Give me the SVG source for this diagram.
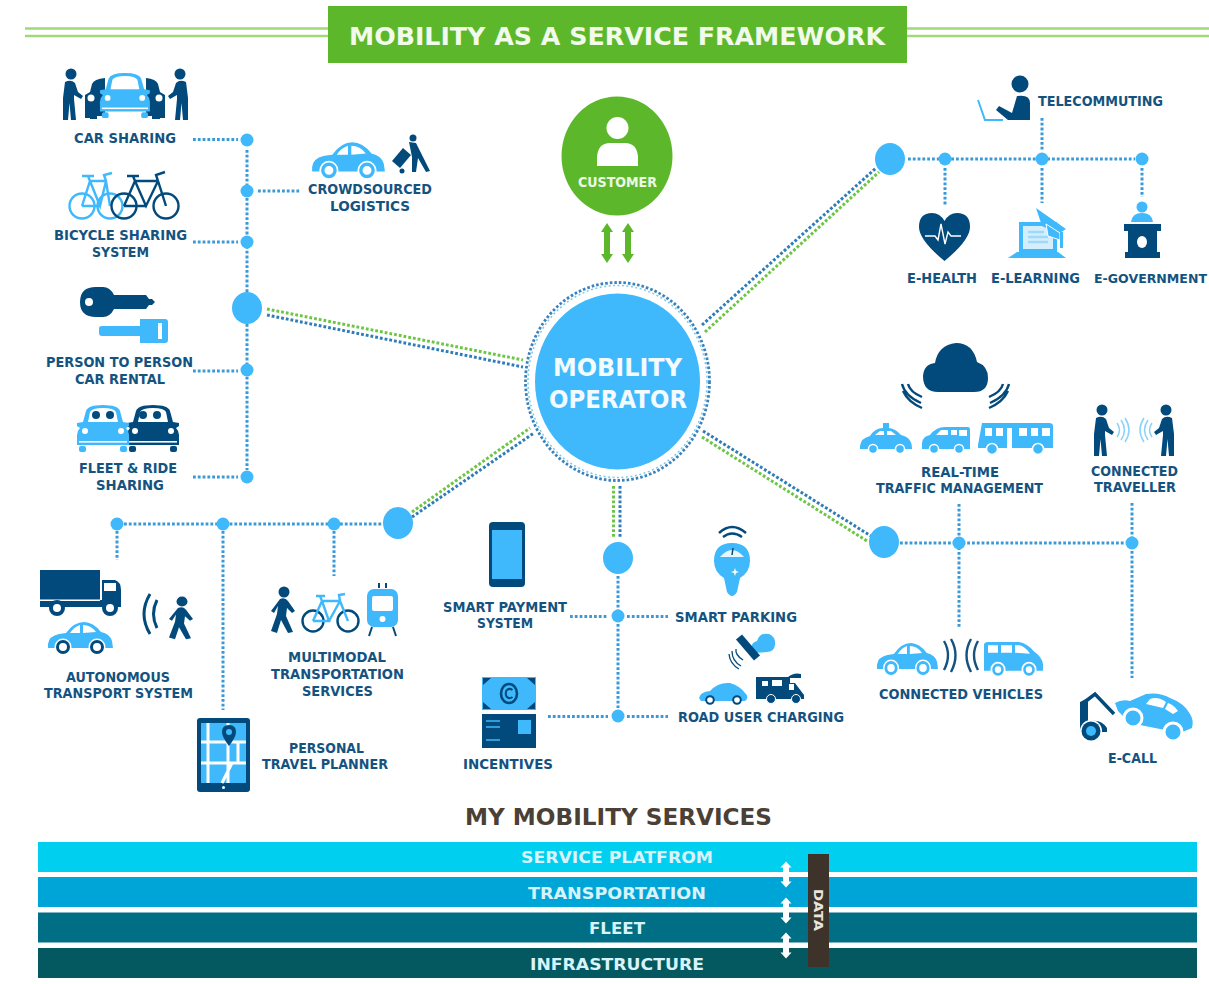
<svg xmlns="http://www.w3.org/2000/svg" width="1209" height="984" viewBox="0 0 1209 984">
<style>
text{font-family:"DejaVu Sans","Liberation Sans",sans-serif;font-weight:700}
.t{font-size:13.5px;fill:#14537f}
.d{fill:#034a7c}
.l{fill:#3fb9fc}
.g{fill:#5cb82a}
.dot{fill:none;stroke:#3a9ad8;stroke-width:3;stroke-dasharray:2.8 2}
.dotd{fill:none;stroke:#2f7db8;stroke-width:3;stroke-dasharray:2.8 2}
.dotg{fill:none;stroke:#6cc644;stroke-width:3;stroke-dasharray:2.8 2}
.band{font-size:16px;fill:#d8f3fa}
</style>
<defs>
<g id="sedan">
<path d="M1 25Q2 17 12 15L19 14Q27 3 37 3Q46 3 54 13Q63 15 65 22L66 29L1 29Z" class="l"/>
<path d="M23 14Q27 8 33 6L33 14ZM36 6Q44 6 49 13L36 14Z" fill="#fff"/>
<circle cx="16" cy="28" r="8.500" fill="#fff"/><circle cx="16" cy="28" r="5.500" fill="none" stroke="currentColor" stroke-width="3"/>
<circle cx="50" cy="28" r="8.500" fill="#fff"/><circle cx="50" cy="28" r="5.500" fill="none" stroke="currentColor" stroke-width="3"/>
</g>
<g id="van">
<path d="M1 4Q1 1 5 1L36 1Q44 2 51 10Q59 15 60 22L60 28L1 28Z" class="l"/>
<path d="M5 4H15V11H5ZM18 4H29V11H18ZM32 4H37Q43 6 47 12L32 11Z" fill="#fff"/>
<circle cx="15" cy="27" r="7.500" fill="#fff"/><circle cx="15" cy="27" r="4.500" fill="none" stroke="#3fb9fc" stroke-width="2.600"/>
<circle cx="46" cy="27" r="7.500" fill="#fff"/><circle cx="46" cy="27" r="4.500" fill="none" stroke="#3fb9fc" stroke-width="2.600"/>
</g>
<g id="front">
<path d="M10 6Q12 0 27 0Q42 0 44 6L47 17L53 18V21L50 23Q53 26 53 30V40H1V30Q1 26 4 23L1 21V18L7 17Z" fill="currentColor"/>
<path d="M12 17L14 7Q16 3 27 3Q38 3 40 7L42 17Z" fill="#fff"/>
<rect x="3" y="36" width="48" height="1.600" fill="#fff"/>
<circle cx="9" cy="26" r="3" fill="#fff"/><circle cx="45" cy="26" r="3" fill="#fff"/>
<rect x="3" y="41" width="7" height="6" rx="2" fill="currentColor"/><rect x="44" y="41" width="7" height="6" rx="2" fill="currentColor"/>
</g>
<g id="person">
<circle cx="10" cy="6" r="5.500"/>
<path d="M4 14Q10 11 14 15L17 24L22 28L20 31L13 27L13 31L15 52H10L8.500 35L7 52H2L2 30Z"/>
</g>
<g id="walker">
<circle cx="13" cy="6" r="5.500"/>
<path d="M9 13Q14 11 17 15L24 25L21 27L16 22L15 30L22 46L17 47L10 34L6 47L0 45L6 28L7 20L3 27L0 25Z"/>
</g>
<path id="udarrow" d="M0 -20L6 -11H3V11H6L0 20L-6 11H-3V-11H-6Z"/>
<path id="udwhite" d="M0 -13L5.500 -7H3V7H5.500L0 13L-5.500 7H-3V-7H-5.500Z" fill="#fff"/>
</defs>

<rect width="1209" height="984" fill="#fff"/>

<g id="title">
<path d="M25 28.500H328M25 36H328M907 28.500H1209M907 36H1209" fill="none" stroke="#9ed97a" stroke-width="2.500"/>
<rect x="328" y="6" width="579" height="57" class="g"/>
<text x="349" y="45" font-size="25" fill="#f2faec" textLength="536" lengthAdjust="spacingAndGlyphs">MOBILITY AS A SERVICE FRAMEWORK</text>
</g>

<g id="connectors">
<path class="dot" d="M193 139.500H238M258 191H300M193 242H238M193 371H238M193 477H238M247 150V294M247 324V470"/>
<path class="dotg" d="M267 309L523 360"/><path class="dotd" d="M267 315L523 367"/>
<path class="dotg" d="M412 512L530 428"/><path class="dotd" d="M412 517L534 433"/>
<path class="dotd" d="M702 325L876 168"/><path class="dotg" d="M705 332L879 172"/>
<path class="dotd" d="M703 431L871 536"/><path class="dotg" d="M702 437L867 541"/>
<path class="dotg" d="M613.500 486V537"/><path class="dotd" d="M620 486V537"/>
<path class="dot" d="M618 576V708M570 616.500H608M627 616.500H668M548 716.500H608M627 716.500H668"/>
<path class="dot" d="M908 159H1135M945 168V206M1042 118V150M1042 168V203M1142 168V197"/>
<path class="dot" d="M900 543H1125M959 504V627M1132 503V678"/>
<path class="dot" d="M124 524H383M117 531V560M223 531V710M334 531V576"/>
</g>

<g id="hubs" class="l">
<ellipse cx="247" cy="308" rx="15" ry="16"/><ellipse cx="398" cy="523" rx="15" ry="16"/><ellipse cx="618" cy="558" rx="15" ry="16"/><ellipse cx="890" cy="159" rx="15" ry="16"/><ellipse cx="884" cy="542" rx="15" ry="16"/>
<circle cx="247" cy="140" r="6.500"/><circle cx="247" cy="191" r="6.500"/><circle cx="247" cy="242" r="6.500"/><circle cx="247" cy="370" r="6.500"/><circle cx="247" cy="477" r="6.500"/>
<circle cx="117" cy="524" r="6.500"/><circle cx="223" cy="524" r="6.500"/><circle cx="334" cy="524" r="6.500"/>
<circle cx="618" cy="616" r="6.500"/><circle cx="618" cy="716" r="6.500"/>
<circle cx="945" cy="159" r="6.500"/><circle cx="1042" cy="159" r="6.500"/><circle cx="1142" cy="159" r="6.500"/>
<circle cx="959" cy="543" r="6.500"/><circle cx="1132" cy="543" r="6.500"/>
</g>

<g id="customer">
<ellipse cx="617" cy="156" rx="55.500" ry="59.500" class="g"/>
<circle cx="617.500" cy="128" r="11" fill="#fff"/>
<path d="M597 166V157Q598 143 610 143H625Q637 143 638 157V166Z" fill="#fff"/>
<text x="578" y="187" font-size="13.500" fill="#eef8e6" textLength="79" lengthAdjust="spacingAndGlyphs">CUSTOMER</text>
<use href="#udarrow" x="607" y="243" class="g"/><use href="#udarrow" x="628" y="243" class="g"/>
</g>

<g id="mobility-operator">
<ellipse cx="617.500" cy="381.500" rx="92" ry="99" fill="none" stroke="#3a82bd" stroke-width="2.800" stroke-dasharray="2.600 2"/>
<ellipse cx="617.500" cy="381.500" rx="89.500" ry="96" fill="none" stroke="#7cc8e8" stroke-width="1.500" stroke-dasharray="2 2.500"/>
<ellipse cx="617.500" cy="381.500" rx="82.500" ry="88" class="l"/>
<text x="553" y="376" font-size="24.500" fill="#f3fbff" textLength="129" lengthAdjust="spacingAndGlyphs">MOBILITY</text>
<text x="549" y="408" font-size="24.500" fill="#f3fbff" textLength="138" lengthAdjust="spacingAndGlyphs">OPERATOR</text>
</g>

<g id="car-sharing">
<path d="M85 118V95L90 92L92 84Q94 79 105 78V116H97V119H90V118Z" class="d"/>
<path d="M165 118V95L160 92L158 84Q156 79 146 78V116H152V119H160V118Z" class="d"/>
<circle cx="91" cy="98" r="3.500" fill="#fff"/><circle cx="159" cy="98" r="3.500" fill="#fff"/>
<use href="#front" transform="translate(99 73) scale(.96)" color="#3fb9fc"/>
<use href="#person" transform="translate(61 68)" class="d"/>
<use href="#person" transform="translate(190 68) scale(-1 1)" class="d"/>
<text class="t" x="74" y="143" textLength="102" lengthAdjust="spacingAndGlyphs">CAR SHARING</text>
</g>

<g id="crowdsourced-logistics">
<use href="#sedan" transform="translate(311 139) scale(1.120)" color="#3fb9fc"/>
<circle cx="413" cy="138" r="3.500" class="d"/>
<path d="M409 142L416 143L430 171L426 172L418 158L416 172H412L412 157Z" class="d"/>
<path d="M392 161L403 148L411 155L400 168Z" class="d"/><circle cx="402" cy="171" r="2.500" class="d"/>
<text class="t" x="308" y="194" textLength="124" lengthAdjust="spacingAndGlyphs">CROWDSOURCED</text>
<text class="t" x="330" y="211" textLength="80" lengthAdjust="spacingAndGlyphs">LOGISTICS</text>
</g>

<g id="bicycle-sharing" fill="none" stroke-width="2.400">
<g stroke="#3fb9fc"><circle cx="82" cy="206" r="12.500"/><circle cx="110" cy="206" r="12.500"/><path d="M82 206L90 181H106L110 206M90 181L100 206L106 181M82 206H100M90 181L88 176M82 176H94M106 181L104 175L112 173"/></g>
<g stroke="#034a7c"><circle cx="124" cy="206" r="12.500"/><circle cx="166" cy="206" r="12.500"/><path d="M124 206L135 181H158L166 206M135 181L146 206L158 181M124 206H146M135 181L133 176M127 176H139M158 181L156 175L165 172"/></g>
<text class="t" x="54" y="240" textLength="133" lengthAdjust="spacingAndGlyphs" stroke="none">BICYCLE SHARING</text>
<text class="t" x="92" y="257" textLength="57" lengthAdjust="spacingAndGlyphs" stroke="none">SYSTEM</text>
</g>

<g id="person-to-person">
<path d="M80 302Q80 287 96 287H103Q110 287 114 295H146L149 299H152L155 302L152 305H149L146 309H114Q110 317 103 317H96Q80 317 80 302Z" class="d"/>
<circle cx="89" cy="302" r="4" fill="#fff"/>
<path d="M99 328Q99 326 102 326H140V319H165Q168 319 168 322V340Q168 343 165 343H140V336H102Q99 336 99 333Z" class="l"/>
<rect x="158" y="323" width="4" height="16" fill="#fff"/>
<text class="t" x="46" y="367" textLength="147" lengthAdjust="spacingAndGlyphs">PERSON TO PERSON</text>
<text class="t" x="75" y="384" textLength="90" lengthAdjust="spacingAndGlyphs">CAR RENTAL</text>
</g>

<g id="fleet-ride-sharing">
<use href="#front" transform="translate(126 405)" color="#034a7c"/>
<use href="#front" transform="translate(76 405)" color="#3fb9fc"/>
<g class="d"><circle cx="96" cy="415" r="4"/><circle cx="110" cy="415" r="4"/><circle cx="143" cy="415" r="4"/><circle cx="157" cy="415" r="4"/></g>
<text class="t" x="79" y="473" textLength="98" lengthAdjust="spacingAndGlyphs">FLEET &amp; RIDE</text>
<text class="t" x="96" y="490" textLength="68" lengthAdjust="spacingAndGlyphs">SHARING</text>
</g>

<g id="autonomous-transport">
<rect x="40" y="570" width="60" height="30" class="d"/><path d="M40 600H102V580H115Q121 582 121 590V607H40Z" class="d"/>
<rect x="104" y="583" width="12" height="8" fill="#fff"/><rect x="40" y="599.500" width="60" height="1.500" fill="#fff"/>
<circle cx="57" cy="608" r="8" class="d"/><circle cx="57" cy="608" r="4" fill="#fff"/><circle cx="110" cy="608" r="8" class="d"/><circle cx="110" cy="608" r="4" fill="#fff"/>
<use href="#sedan" transform="translate(47 619)" color="#034a7c"/>
<path d="M150 594Q138 614 150 634M157 600Q150 614 157 628" fill="none" stroke="#034a7c" stroke-width="3"/>
<use href="#walker" transform="translate(169 596) scale(1 .92)" class="d"/>
<text class="t" x="66" y="682" textLength="104" lengthAdjust="spacingAndGlyphs">AUTONOMOUS</text>
<text class="t" x="44" y="698" textLength="149" lengthAdjust="spacingAndGlyphs">TRANSPORT SYSTEM</text>
</g>

<g id="multimodal">
<use href="#walker" transform="translate(271 586)" class="d"/>
<g fill="none"><circle cx="313" cy="621" r="10.500" stroke="#034a7c" stroke-width="2.400"/><circle cx="348" cy="621" r="10.500" stroke="#034a7c" stroke-width="2.400"/><path d="M313 621L322 601H340L348 621M322 601L329 621H313M329 621L340 601M322 601L320 596M316 596H325M340 601L339 595L345 594" stroke="#3fb9fc" stroke-width="2.400"/></g>
<rect x="367" y="589" width="31" height="38" rx="7" class="l"/><rect x="372" y="596" width="21" height="15" rx="2" fill="#fff"/><circle cx="382.500" cy="619" r="3" fill="#fff"/>
<path d="M372 627L369 636M393 627L396 636M379 583V588M386 583V588" stroke="#034a7c" stroke-width="2" fill="none"/>
<text class="t" x="288" y="662" textLength="98" lengthAdjust="spacingAndGlyphs">MULTIMODAL</text>
<text class="t" x="271" y="679" textLength="133" lengthAdjust="spacingAndGlyphs">TRANSPORTATION</text>
<text class="t" x="302" y="696" textLength="71" lengthAdjust="spacingAndGlyphs">SERVICES</text>
</g>

<g id="personal-travel-planner">
<rect x="197" y="718" width="53" height="74" rx="3" class="d"/>
<rect x="201" y="723" width="45" height="60" class="l"/>
<path d="M208 723V783M201 742H246M228 723V783M201 763H246M238 742V763M222 783L232 763" stroke="#fff" stroke-width="3" fill="none"/>
<path d="M229 725Q222 725 222 732Q222 737 229 746Q236 737 236 732Q236 725 229 725Z" class="d"/><circle cx="229" cy="732" r="3" class="l"/>
<circle cx="223.500" cy="787.500" r="1.500" fill="#fff"/>
<text class="t" x="289" y="753" textLength="75" lengthAdjust="spacingAndGlyphs">PERSONAL</text>
<text class="t" x="262" y="769" textLength="126" lengthAdjust="spacingAndGlyphs">TRAVEL PLANNER</text>
</g>

<g id="smart-payment">
<rect x="489" y="522" width="36" height="65" rx="4" class="d"/><rect x="492" y="530" width="30" height="49" class="l"/>
<text class="t" x="443" y="612" textLength="124" lengthAdjust="spacingAndGlyphs">SMART PAYMENT</text>
<text class="t" x="477" y="628" textLength="56" lengthAdjust="spacingAndGlyphs">SYSTEM</text>
</g>

<g id="incentives">
<rect x="482" y="677" width="54" height="33" class="l"/>
<path d="M483 678H491L483 685ZM535 678H527L535 685ZM483 709H491L483 702ZM535 709H527L535 702Z" class="d"/>
<ellipse cx="509" cy="693.500" rx="8" ry="9.500" fill="none" stroke="#034a7c" stroke-width="2.600"/>
<path d="M512.500 690Q509 687.500 506.500 690.500Q505 693.500 506.500 696.500Q509 699.500 512.500 697" fill="none" stroke="#034a7c" stroke-width="2"/>
<rect x="482" y="714" width="54" height="34" class="d"/><rect x="518" y="720" width="13" height="14" class="l"/>
<path d="M486 721H500M486 727H500M486 740H500" stroke="#3fb9fc" stroke-width="1.600"/>
<text class="t" x="463" y="769" textLength="90" lengthAdjust="spacingAndGlyphs">INCENTIVES</text>
</g>

<g id="smart-parking">
<path d="M719 533Q732 521 746 533M723 537Q732 530 742 537" fill="none" stroke="#034a7c" stroke-width="2.400"/>
<path d="M732 543Q714 543 714 561Q714 572 724 578L727 592Q732 600 737 592L740 578Q750 572 750 561Q750 543 732 543Z" class="l"/>
<path d="M720 557Q732 543 744 557Z" fill="#e8f6fe"/>
<path d="M732 555L733 548" stroke="#034a7c" stroke-width="1.500"/>
<path d="M735 568L736 571L739 572L736 573L735 576L734 573L731 572L734 571Z" fill="#fff"/>
<text class="t" x="675" y="622" textLength="122" lengthAdjust="spacingAndGlyphs">SMART PARKING</text>
</g>

<g id="road-user-charging">
<path d="M754 653Q748 644 757 641Q760 632 769 634Q776 637 775 645Q774 652 767 652Z" class="l"/>
<path d="M739 637L757 658" stroke="#034a7c" stroke-width="8" fill="none"/>
<path d="M736 649Q735 655 743 660M732 651Q732 661 741 666M729 654Q730 664 739 669" fill="none" stroke="#034a7c" stroke-width="1.300"/>
<path d="M699 698Q700 692 710 691Q718 682 730 683Q740 686 745 693Q748 695 747 699L745 701H701Z" class="l"/>
<circle cx="710" cy="700" r="3.800" fill="#fff" stroke="#034a7c" stroke-width="2"/><circle cx="737" cy="700" r="3.800" fill="#fff" stroke="#034a7c" stroke-width="2"/>
<path d="M756 677H788Q794 672 801 674V678H790V683H795L804 695V699H756Z" class="d"/>
<rect x="762" y="681" width="6" height="5" fill="#fff"/><rect x="772" y="680" width="10" height="6" fill="#fff"/><rect x="789" y="684" width="5" height="6" fill="#fff"/>
<circle cx="771" cy="699" r="4.500" class="d" stroke="#fff"/><circle cx="796" cy="699" r="4.500" class="d" stroke="#fff"/>
<text class="t" x="678" y="722" textLength="166" lengthAdjust="spacingAndGlyphs">ROAD USER CHARGING</text>
</g>

<g id="telecommuting">
<circle cx="1020" cy="84" r="8.500" class="d"/>
<path d="M1017 96Q1030 94 1030 103V120H1008L996 110L999 106L1012 113Z" class="d"/>
<path d="M978 100L985 120H1003" fill="none" stroke="#3fb9fc" stroke-width="2"/>
<text class="t" x="1038" y="106" textLength="125" lengthAdjust="spacingAndGlyphs">TELECOMMUTING</text>
</g>

<g id="e-health">
<path d="M944.500 261Q919 240 919 227Q919 213 932 213Q940 213 944.500 221Q949 213 957 213Q970 213 970 227Q970 240 944.500 261Z" class="d"/>
<path d="M925 236H935L938 240L941 224L945 244L948 232L951 236H961" fill="none" stroke="#fff" stroke-width="1.400"/>
<text class="t" x="907" y="283" textLength="70" lengthAdjust="spacingAndGlyphs">E-HEALTH</text>
</g>

<g id="e-learning">
<rect x="1019" y="222" width="38" height="30" class="l"/><rect x="1023" y="226" width="30" height="23" fill="#d5eefc"/>
<path d="M1028 232H1044M1028 237H1048M1028 242H1048" stroke="#9fdafc" stroke-width="2.500"/>
<path d="M1008 258L1017 252H1058L1066 258Z" class="l"/>
<path d="M1036 208L1066 229L1058 234L1042 226Z" class="l"/>
<path d="M1046 224L1060 233V240L1048 236Z" class="l" stroke="#fff"/>
<rect x="1060" y="232" width="3" height="16" class="l"/>
<text class="t" x="991" y="283" textLength="89" lengthAdjust="spacingAndGlyphs">E-LEARNING</text>
</g>

<g id="e-government">
<circle cx="1142" cy="207" r="5.500" class="l"/><path d="M1131 222Q1132 213 1142 213Q1152 213 1153 222Z" class="l"/>
<path d="M1124 224H1161V231H1157V252H1160V258H1125V252H1128V231H1124Z" class="d"/><ellipse cx="1142" cy="242" rx="5" ry="6" fill="#fff"/>
<text class="t" x="1094" y="283" style="font-size:12.300px" textLength="113" lengthAdjust="spacingAndGlyphs">E-GOVERNMENT</text>
</g>

<g id="real-time-traffic">
<path d="M938 392Q923 392 923 376Q924 364 935 363Q938 345 956 343Q973 343 977 362Q988 366 988 378Q988 392 974 392Z" fill="#034a7c"/>
<path d="M902 384Q905 396 921 403M908 384Q910 392 922 397M903 391Q908 402 922 408M1009 384Q1006 396 990 403M1003 384Q1001 392 989 397M1008 391Q1003 402 989 408" fill="none" stroke="#034a7c" stroke-width="2.400"/>
<path d="M860 446Q861 438 870 436Q875 428 883 428V423H889V428Q896 429 901 435Q912 437 912 449H860Z" class="l"/><path d="M875 435L880 431H884V435ZM887 431H891L896 435H887Z" fill="#fff"/>
<circle cx="873" cy="449" r="4.500" class="l" stroke="#fff" stroke-width="1.500"/><circle cx="900" cy="449" r="4.500" class="l" stroke="#fff" stroke-width="1.500"/>
<path d="M922 449V443Q923 436 930 435Q936 427 945 427H968Q970 427 970 430V449Z" class="l"/><path d="M936 435L941 430H948V435ZM951 430H957V435H951ZM959 430H967V436H959Z" fill="#fff"/>
<circle cx="934" cy="449" r="4.500" class="l" stroke="#fff" stroke-width="1.500"/><circle cx="959" cy="449" r="4.500" class="l" stroke="#fff" stroke-width="1.500"/>
<path d="M978 445L982 423H1049Q1053 423 1053 426V448H978Z" class="l"/>
<path d="M985 428H992V436H985ZM996 428H1003V436H996ZM1007 428H1012V449H1007ZM1019 428H1027V436H1019ZM1031 428H1038V436H1031ZM1042 428H1050V436H1042Z" fill="#fff"/>
<circle cx="992" cy="449" r="5.500" class="l" stroke="#fff" stroke-width="1.500"/><circle cx="1038" cy="449" r="5.500" class="l" stroke="#fff" stroke-width="1.500"/>
<text class="t" x="921" y="477" textLength="78" lengthAdjust="spacingAndGlyphs">REAL-TIME</text>
<text class="t" x="876" y="493" textLength="167" lengthAdjust="spacingAndGlyphs">TRAFFIC MANAGEMENT</text>
</g>

<g id="connected-traveller">
<use href="#person" transform="translate(1092 404)" class="d"/>
<use href="#person" transform="translate(1176 404) scale(-1 1)" class="d"/>
<path d="M1117 423Q1122 430 1117 437M1121 420Q1128 430 1121 440M1125 418Q1133 430 1125 442M1152 423Q1147 430 1152 437M1148 420Q1141 430 1148 440M1144 418Q1136 430 1144 442" fill="none" stroke="#8ad2f9" stroke-width="1.500"/>
<text class="t" x="1091" y="476" textLength="87" lengthAdjust="spacingAndGlyphs">CONNECTED</text>
<text class="t" x="1094" y="492" textLength="82" lengthAdjust="spacingAndGlyphs">TRAVELLER</text>
</g>

<g id="connected-vehicles">
<use href="#sedan" transform="translate(876 640) scale(.94 1)" color="#3fb9fc"/>
<path d="M944 641Q952 655 944 670M951 639Q960 655 951 672M978 641Q970 655 978 670M971 639Q962 655 971 672" fill="none" stroke="#14537f" stroke-width="2.400"/>
<use href="#van" transform="translate(983 641) scale(1 1.060)"/>
<text class="t" x="879" y="699" textLength="164" lengthAdjust="spacingAndGlyphs">CONNECTED VEHICLES</text>
</g>

<g id="e-call">
<path d="M1082 704L1095 694L1114 714" fill="none" stroke="#034a7c" stroke-width="3.500"/>
<path d="M1080 702L1088 698V722Q1100 718 1107 728V732H1100Q1094 722 1084 726L1080 732Z" class="d"/>
<circle cx="1091" cy="731" r="11" fill="#fff"/><circle cx="1091" cy="731" r="9.500" class="d"/><circle cx="1091" cy="731" r="5" class="l"/>
<path d="M1115 703Q1122 699 1130 701L1146 694Q1160 692 1170 698Q1184 703 1190 714Q1194 720 1192 728L1180 733L1130 723L1118 711Z" class="l"/>
<path d="M1150 699Q1158 696 1166 702L1163 708L1146 704ZM1168 703Q1174 705 1178 711L1173 714L1165 709Z" fill="#fff"/>
<circle cx="1133" cy="718" r="9" class="l" stroke="#fff" stroke-width="3"/><circle cx="1173" cy="732" r="9" class="l" stroke="#fff" stroke-width="3"/>
<text class="t" x="1108" y="763" textLength="49" lengthAdjust="spacingAndGlyphs">E-CALL</text>
</g>

<g id="my-mobility-services">
<text x="465" y="825" font-size="22.500" fill="#4b4036" textLength="307" lengthAdjust="spacingAndGlyphs">MY MOBILITY SERVICES</text>
<rect x="38" y="842" width="1159" height="30" fill="#00cff0"/>
<rect x="38" y="877" width="1159" height="30" fill="#00a5d8"/>
<rect x="38" y="912.500" width="1159" height="30" fill="#006f86"/>
<rect x="38" y="948" width="1159" height="30" fill="#04585f"/>
<text class="band" x="521" y="863" textLength="192" lengthAdjust="spacingAndGlyphs">SERVICE PLATFROM</text>
<text class="band" x="528" y="899" textLength="178" lengthAdjust="spacingAndGlyphs">TRANSPORTATION</text>
<text class="band" x="589" y="934" textLength="56" lengthAdjust="spacingAndGlyphs">FLEET</text>
<text class="band" x="530" y="970" textLength="174" lengthAdjust="spacingAndGlyphs">INFRASTRUCTURE</text>
<use href="#udwhite" x="786" y="874.500"/><use href="#udwhite" x="786" y="910.500"/><use href="#udwhite" x="786" y="945.500"/>
<rect x="808" y="854" width="21" height="113" fill="#3e332a"/>
<text transform="translate(814 889) rotate(90)" font-size="12" fill="#e8e4de" textLength="42" lengthAdjust="spacingAndGlyphs">DATA</text>
</g>
</svg>
